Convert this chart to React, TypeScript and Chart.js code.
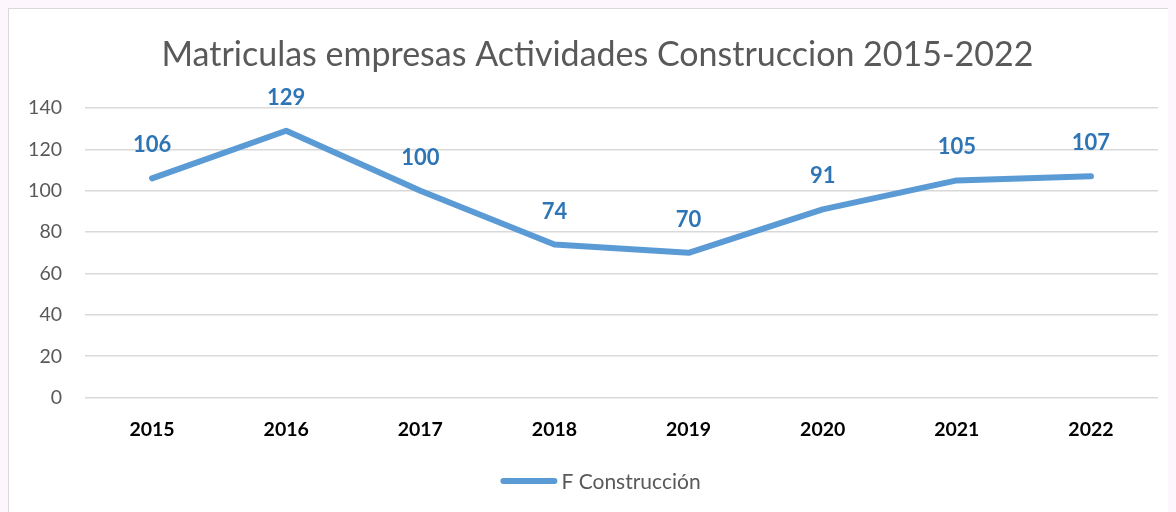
import React, { useEffect, useRef } from "react";
import { Chart, registerables } from "chart.js";

Chart.register(...registerables);

const years = ["2015", "2016", "2017", "2018", "2019", "2020", "2021", "2022"];
const construccion = [106, 129, 100, 74, 70, 91, 105, 107];
const yTicks = [0, 20, 40, 60, 80, 100, 120, 140];
const chartTitle = "Matriculas empresas Actividades Construccion 2015-2022";
const seriesName = "F Construcción";

const FONT = "Lato, 'Open Sans', sans-serif";
const LINE_COLOR = "#5b9bd5";

const dataLabelPlugin = {
  id: "dataLabels",
  afterDatasetsDraw(chart: any) {
    const ctx = chart.ctx;
    const meta = chart.getDatasetMeta(0);
    ctx.save();
    ctx.font = `bold 22px ${FONT}`;
    ctx.fillStyle = "#2e75b6";
    ctx.textAlign = "center";
    ctx.textBaseline = "middle";
    meta.data.forEach((pt: any, i: number) => {
      ctx.fillText(String(construccion[i]), pt.x, pt.y - 33);
    });
    ctx.restore();
  },
};

const legendPlugin = {
  id: "customLegend",
  afterDraw(chart: any) {
    const ctx = chart.ctx;
    ctx.save();
    ctx.font = `21px ${FONT}`;
    const textW = ctx.measureText(seriesName).width;
    const lineW = 57;
    const gap = 4;
    const total = lineW + gap + textW;
    const cx = chart.width / 2 + 3;
    const startX = cx - total / 2;
    const y = chart.height - 31;
    ctx.strokeStyle = LINE_COLOR;
    ctx.lineWidth = 6;
    ctx.lineCap = "round";
    ctx.beginPath();
    ctx.moveTo(startX + 3, y);
    ctx.lineTo(startX + lineW - 3, y);
    ctx.stroke();
    ctx.fillStyle = "#595959";
    ctx.textAlign = "left";
    ctx.textBaseline = "middle";
    ctx.fillText(seriesName, startX + lineW + gap, y + 1);
    ctx.restore();
  },
};

export default function App() {
  const ref = useRef<HTMLCanvasElement | null>(null);

  useEffect(() => {
    document.documentElement.style.overflow = "hidden";
    document.body.style.background = "#fdf6fd";
    const canvas = ref.current;
    if (!canvas) return;
    const chart = new Chart(canvas, {
      type: "line",
      data: {
        labels: years,
        datasets: [
          {
            label: seriesName,
            data: construccion,
            borderColor: LINE_COLOR,
            backgroundColor: LINE_COLOR,
            borderWidth: 6,
            borderCapStyle: "round",
            borderJoinStyle: "round",
            pointRadius: 0,
            pointHoverRadius: 0,
            tension: 0,
            fill: false,
          },
        ],
      },
      options: {
        responsive: false,
        animation: false,
        events: [],
        layout: { padding: { left: 0, right: 0, top: 0, bottom: 51 } },
        plugins: {
          title: {
            display: true,
            text: chartTitle,
            color: "#595959",
            font: { family: FONT, size: 34, weight: "normal", lineHeight: 1.2 },
            padding: { top: 26, bottom: 32.2 },
          },
          legend: { display: false },
          tooltip: { enabled: false },
        },
        scales: {
          x: {
            offset: true,
            grid: { display: false, drawTicks: false },
            border: { display: false },
            ticks: {
              color: "#000000",
              font: { family: FONT, size: 19.5, weight: "bold" },
              padding: 20,
            },
          },
          y: {
            min: 0,
            max: 140,
            afterFit: (scale: any) => {
              scale.width = 76;
            },
            afterBuildTicks: (scale: any) => {
              scale.ticks = yTicks.map((v) => ({ value: v }));
            },
            grid: { color: "#d9d9d9", lineWidth: 1.5, drawTicks: false },
            border: { display: false },
            ticks: {
              color: "#595959",
              font: { family: FONT, size: 19.5 },
              padding: 23,
            },
          },
          yRight: {
            position: "right",
            min: 0,
            max: 140,
            afterFit: (scale: any) => {
              scale.width = 28;
            },
            grid: { display: false, drawTicks: false },
            border: { display: false },
            ticks: { display: false },
          },
        },
      },
      plugins: [dataLabelPlugin, legendPlugin],
    });
    return () => chart.destroy();
  }, []);

  return (
    <div
      style={{
        position: "relative",
        width: 1168,
        height: 504,
        boxSizing: "border-box",
        borderTop: "1px solid #d9d9d9",
        borderLeft: "1px solid #d9d9d9",
        background: "#ffffff",
        overflow: "hidden",
      }}
    >
      <canvas ref={ref} width={1177} height={503} style={{ display: "block" }} />
    </div>
  );
}
